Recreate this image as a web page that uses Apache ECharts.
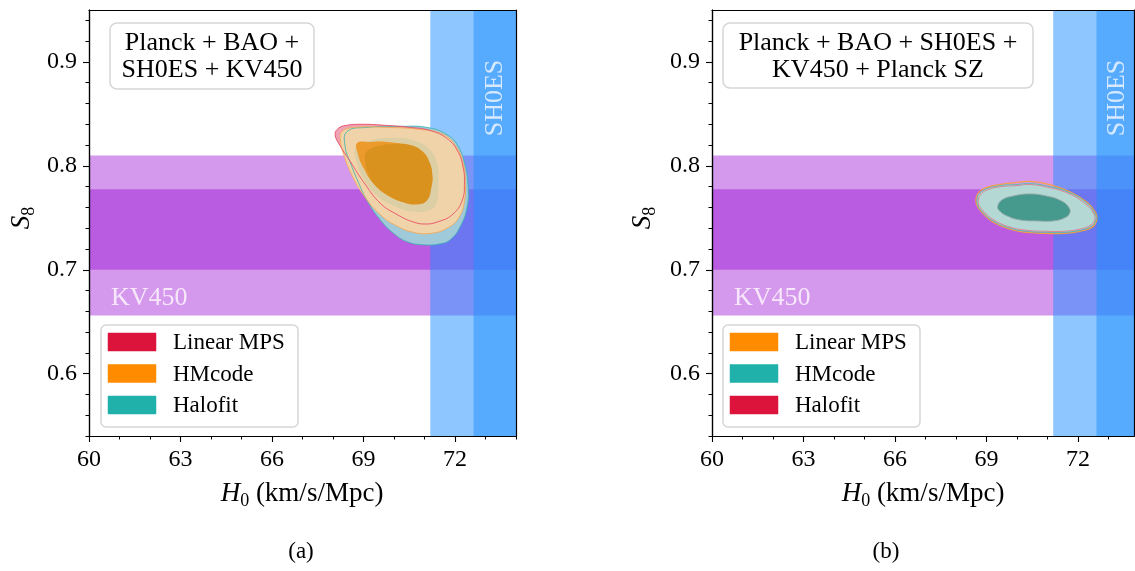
<!DOCTYPE html>
<html>
<head>
<meta charset="utf-8">
<script src="https://cdn.jsdelivr.net/npm/echarts@6/dist/echarts.min.js"></script>
<style>
html,body{margin:0;padding:0;background:#fff;}
#chart{width:1135px;height:571px;}
</style>
</head>
<body>
<div id="chart"></div>
<script>
// ---------------- data ----------------
const xMajorTicks = [60, 63, 66, 69, 72];
const xMinorTicksA = [61, 62, 64, 65, 67, 68, 70, 71, 73, 74];
const xMinorTicksB = [61, 62, 64, 65, 67, 68, 70, 71, 73];
const yMajorTicks = [0.6, 0.7, 0.8, 0.9];
const yMinorTicks = [0.54, 0.56, 0.58, 0.62, 0.64, 0.66, 0.68, 0.72, 0.74, 0.76, 0.78, 0.82, 0.84, 0.86, 0.88, 0.92, 0.94];

// KV450 S8 bands (2 sigma, 1 sigma) and SH0ES H0 bands (2 sigma, 1 sigma)
const kv450Bands = [[0.656, 0.810], [0.700, 0.7775]];
const shoesBands = [[71.19, 76.87], [72.61, 75.45]];

const legendLabels = ['Linear MPS', 'HMcode', 'Halofit'];
const titleA = 'Planck + BAO +\nSH0ES + KV450';
const titleB = 'Planck + BAO + SH0ES +\nKV450 + Planck SZ';

// panel (a) contours: [H0, S8]
const a_halofit95 = [[68.46,0.833],[69.11,0.837],[70.21,0.838],[71.08,0.837],[71.74,0.830],[72.12,0.818],[72.34,0.799],[72.43,0.780],[72.40,0.761],[72.18,0.742],[71.85,0.729],[71.52,0.725],[70.97,0.724],[70.43,0.727],[69.99,0.735],[69.55,0.748],[69.11,0.767],[68.79,0.787],[68.57,0.803],[68.40,0.818]];
const a_linear95 = [[68.07,0.830],[68.17,0.836],[68.44,0.839],[68.96,0.840],[69.72,0.839],[70.54,0.837],[71.19,0.834],[71.75,0.826],[72.11,0.813],[72.27,0.798],[72.31,0.785],[72.24,0.767],[71.91,0.753],[71.42,0.746],[71.03,0.744],[70.63,0.746],[70.11,0.753],[69.55,0.764],[68.99,0.785],[68.57,0.804],[68.24,0.819]];
const a_hmcode95 = [[68.29,0.833],[68.68,0.837],[69.77,0.837],[70.86,0.835],[71.63,0.830],[72.07,0.817],[72.28,0.801],[72.34,0.785],[72.31,0.766],[72.12,0.750],[71.74,0.740],[71.19,0.735],[70.64,0.736],[70.10,0.742],[69.55,0.753],[69.00,0.772],[68.62,0.791],[68.35,0.811],[68.24,0.825]];
const a_halofit68 = [[68.76,0.819],[69.29,0.825],[70.04,0.827],[70.70,0.824],[71.19,0.815],[71.42,0.801],[71.45,0.782],[71.39,0.764],[71.13,0.757],[70.60,0.756],[70.04,0.761],[69.49,0.770],[69.06,0.785],[68.80,0.801]];
const a_hmcode68 = [[68.79,0.822],[69.22,0.823],[69.77,0.823],[70.43,0.820],[70.86,0.814],[71.14,0.804],[71.25,0.791],[71.22,0.779],[71.08,0.767],[70.75,0.763],[70.31,0.765],[69.77,0.772],[69.33,0.783],[69.00,0.798],[68.81,0.812]];
const a_linear68 = [[69.09,0.813],[69.49,0.819],[70.04,0.821],[70.54,0.820],[70.93,0.814],[71.16,0.804],[71.26,0.791],[71.22,0.779],[71.08,0.767],[70.75,0.763],[70.31,0.765],[69.78,0.772],[69.39,0.781],[69.16,0.792],[69.06,0.804]];

// panel (b) contours
const b_linear95 = [[68.66,0.769],[68.76,0.775],[68.99,0.779],[69.43,0.782],[69.99,0.784],[70.43,0.785],[71.08,0.782],[71.74,0.775],[72.30,0.765],[72.58,0.755],[72.62,0.748],[72.47,0.741],[72.07,0.737],[71.52,0.735],[70.97,0.735],[70.32,0.736],[69.77,0.739],[69.21,0.746],[68.86,0.755],[68.69,0.762]];
const b_hmcode95 = [[68.70,0.769],[68.79,0.774],[69.01,0.778],[69.44,0.781],[69.99,0.782],[70.43,0.783],[71.08,0.780],[71.74,0.774],[72.29,0.764],[72.56,0.754],[72.59,0.748],[72.45,0.742],[72.07,0.738],[71.52,0.736],[70.97,0.736],[70.32,0.737],[69.77,0.740],[69.22,0.747],[68.89,0.755],[68.72,0.762]];
const b_halofit95 = [[68.74,0.768],[68.83,0.773],[69.04,0.777],[69.46,0.780],[70.00,0.781],[70.43,0.782],[71.07,0.779],[71.72,0.773],[72.26,0.763],[72.52,0.754],[72.55,0.748],[72.42,0.743],[72.05,0.739],[71.51,0.737],[70.97,0.737],[70.33,0.738],[69.78,0.741],[69.24,0.748],[68.92,0.756],[68.76,0.762]];
const b_hmcode68 = [[69.37,0.761],[69.50,0.767],[69.88,0.771],[70.43,0.773],[70.97,0.771],[71.41,0.767],[71.68,0.761],[71.74,0.755],[71.57,0.750],[71.19,0.747],[70.65,0.747],[70.10,0.748],[69.66,0.752],[69.42,0.757]];

// ---------------- styling / layout ----------------
const FONT = 'Liberation Serif';
const chart = echarts.init(document.getElementById('chart'), null, {renderer: 'canvas'});

const G = [
  {left: 89, top: 10, width: 427, height: 426},
  {left: 712, top: 10, width: 422, height: 426}
];
const xMax = [74, 73.84];
const yMin = 0.54, yMax = 0.95;

function majorX(gridIndex, max) {
  return {
    type: 'value', gridIndex, position: 'bottom', min: 60, max, z: 10,
    axisLine: {show: true, onZero: false, lineStyle: {color: '#000', width: 1.2}},
    axisTick: {show: true, length: 6, inside: false, customValues: xMajorTicks, lineStyle: {color: '#000', width: 1.1}},
    axisLabel: {show: true, customValues: xMajorTicks, margin: 12, color: '#000', fontFamily: FONT, fontSize: 24, formatter: v => String(v)},
    splitLine: {show: false}
  };
}
function minorX(gridIndex, max, ticks) {
  return {
    type: 'value', gridIndex, position: 'bottom', min: 60, max, z: 10,
    axisLine: {show: true, onZero: false, lineStyle: {color: '#000', width: 1.2}},
    axisTick: {show: true, length: 3.5, customValues: ticks, lineStyle: {color: '#000', width: 1}},
    axisLabel: {show: false}, splitLine: {show: false}
  };
}
function lineX(gridIndex, max) {
  return {
    type: 'value', gridIndex, position: 'top', min: 60, max, z: 10,
    axisLine: {show: true, onZero: false, lineStyle: {color: '#000', width: 1.2}},
    axisTick: {show: false}, axisLabel: {show: false}, splitLine: {show: false}
  };
}
function majorY(gridIndex) {
  return {
    type: 'value', gridIndex, position: 'left', min: yMin, max: yMax, z: 10,
    axisLine: {show: true, onZero: false, lineStyle: {color: '#000', width: 1.2}},
    axisTick: {show: true, length: 6, customValues: yMajorTicks, lineStyle: {color: '#000', width: 1.1}},
    axisLabel: {show: true, customValues: yMajorTicks, margin: 12, color: '#000', fontFamily: FONT, fontSize: 24, formatter: v => v.toFixed(1)},
    splitLine: {show: false}
  };
}
function minorY(gridIndex) {
  return {
    type: 'value', gridIndex, position: 'left', min: yMin, max: yMax, z: 10,
    axisLine: {show: true, onZero: false, lineStyle: {color: '#000', width: 1.2}},
    axisTick: {show: true, length: 3.5, customValues: yMinorTicks, lineStyle: {color: '#000', width: 1}},
    axisLabel: {show: false}, splitLine: {show: false}
  };
}
function lineY(gridIndex) {
  return {
    type: 'value', gridIndex, position: 'right', min: yMin, max: yMax, z: 10,
    axisLine: {show: true, onZero: false, lineStyle: {color: '#000', width: 1.2}},
    axisTick: {show: false}, axisLabel: {show: false}, splitLine: {show: false}
  };
}

function hBandSeries(xAxisIndex, yAxisIndex, bands, color) {
  return {
    type: 'custom', xAxisIndex, yAxisIndex, z: 1, silent: true,
    data: bands,
    renderItem: function (params, api) {
      const cs = params.coordSys;
      const top = api.coord([60, api.value(1)])[1];
      const bot = api.coord([60, api.value(0)])[1];
      const r = echarts.graphic.clipRectByRect({x: cs.x, y: top, width: cs.width, height: bot - top},
        {x: cs.x, y: cs.y, width: cs.width, height: cs.height});
      return r && {type: 'rect', shape: r, style: {fill: color}};
    }
  };
}
function vBandSeries(xAxisIndex, yAxisIndex, bands, color) {
  return {
    type: 'custom', xAxisIndex, yAxisIndex, z: 1, silent: true,
    data: bands,
    renderItem: function (params, api) {
      const cs = params.coordSys;
      const l = api.coord([api.value(0), 0.7])[0];
      const r0 = api.coord([api.value(1), 0.7])[0];
      const r = echarts.graphic.clipRectByRect({x: l, y: cs.y, width: r0 - l, height: cs.height},
        {x: cs.x, y: cs.y, width: cs.width, height: cs.height});
      return r && {type: 'rect', shape: r, style: {fill: color}};
    }
  };
}
function polySeries(xAxisIndex, yAxisIndex, pts, fill, stroke, lw, z) {
  return {
    type: 'custom', xAxisIndex, yAxisIndex, z: z, silent: true,
    data: pts,
    renderItem: function (params, api) {
      if (params.dataIndex !== 0) return null;
      const points = pts.map(p => api.coord(p));
      return {
        type: 'polygon',
        shape: {points, smooth: 0.45},
        style: {fill: fill || 'none', stroke: stroke || 'none', lineWidth: lw || 0}
      };
    }
  };
}

const series = [];
// panel (a)
kv450Bands.forEach(b => series.push(hBandSeries(0, 0, [b], 'rgba(148,0,211,0.4)')));
shoesBands.forEach(b => series.push(vBandSeries(0, 0, [b], 'rgba(30,144,255,0.5)')));
series.push(polySeries(0, 0, a_halofit95, '#9fcad9', null, 0, 3));
series.push(polySeries(0, 0, a_linear95, '#eea3b4', null, 0, 4));
series.push(polySeries(0, 0, a_hmcode95, '#f0d3a8', null, 0, 5));
series.push(polySeries(0, 0, a_halofit68, '#dccfa6', null, 0, 6));
series.push(polySeries(0, 0, a_hmcode68, '#ec9a2b', null, 0, 7));
series.push(polySeries(0, 0, a_linear68, '#d9921e', null, 0, 8));
series.push(polySeries(0, 0, a_halofit95, null, 'rgba(64,180,175,0.85)', 1, 9));
series.push(polySeries(0, 0, a_hmcode95, null, 'rgba(246,170,90,0.9)', 1, 9));
series.push(polySeries(0, 0, a_linear95, null, 'rgba(232,80,105,0.9)', 1, 9));
// panel (b)
kv450Bands.forEach(b => series.push(hBandSeries(3, 3, [b], 'rgba(148,0,211,0.4)')));
shoesBands.forEach(b => series.push(vBandSeries(3, 3, [b], 'rgba(30,144,255,0.5)')));
series.push(polySeries(3, 3, b_hmcode95, '#b4d8d4', null, 0, 3));
series.push(polySeries(3, 3, b_hmcode68, '#46998d', 'rgba(150,170,168,0.9)', 1, 4));
series.push(polySeries(3, 3, b_linear95, null, 'rgba(248,160,60,0.95)', 1.3, 9));
series.push(polySeries(3, 3, b_halofit95, null, 'rgba(230,120,140,0.9)', 1, 9));
series.push(polySeries(3, 3, b_hmcode95, null, 'rgba(90,185,178,0.9)', 1, 9));

// ---------------- text / boxes ----------------
const legendColorsA = ['#dc143c', '#ff8c00', '#20b2aa'];
const legendColorsB = ['#ff8c00', '#20b2aa', '#dc143c'];

function legendBox(x0, colors) {
  const els = [{
    type: 'rect', shape: {x: x0, y: 325, width: 197, height: 102, r: 5},
    style: {fill: 'rgba(255,255,255,0.85)', stroke: '#d6d6d6', lineWidth: 1.5}, z: 100
  }];
  legendLabels.forEach((name, i) => {
    const cy = 342 + i * 31.5;
    els.push({type: 'rect', shape: {x: x0 + 7, y: cy - 9, width: 48, height: 18},
      style: {fill: colors[i], stroke: colors[i], lineWidth: 0.5, opacity: 1}, z: 101});
    els.push({type: 'text', x: x0 + 72, y: cy + 1, z: 101,
      style: {text: name, font: '23px "' + FONT + '"', fill: '#000', align: 'left', verticalAlign: 'middle'}});
  });
  return els;
}
function titleBox(x0, y0, w, h, text) {
  return [{
    type: 'rect', shape: {x: x0, y: y0, width: w, height: h, r: 7},
    style: {fill: 'rgba(255,255,255,0.85)', stroke: '#d6d6d6', lineWidth: 1.5}, z: 100
  }, {
    type: 'text', x: x0 + w / 2, y: y0 + h / 2 + 1, z: 101,
    style: {text, font: '26px "' + FONT + '"', fill: '#000', align: 'center', verticalAlign: 'middle', lineHeight: 27}
  }];
}
function xTitle(cx) {
  return {
    type: 'text', x: cx, y: 494, z: 101,
    style: {
      text: '{i|H}{s|0}{n| (km/s/Mpc)}', align: 'center', verticalAlign: 'middle',
      rich: {
        i: {fontFamily: FONT, fontStyle: 'italic', fontSize: 27, lineHeight: 32, fill: '#000'},
        s: {fontFamily: FONT, fontSize: 18, lineHeight: 24, verticalAlign: 'bottom', fill: '#000'},
        n: {fontFamily: FONT, fontSize: 27, lineHeight: 32, fill: '#000'}
      }
    }
  };
}
function yTitle(cx) {
  return {
    type: 'text', x: cx, y: 218, rotation: Math.PI / 2, z: 101,
    style: {
      text: '{i|S}{s|8}', align: 'center', verticalAlign: 'middle',
      rich: {
        i: {fontFamily: FONT, fontStyle: 'italic', fontSize: 27, lineHeight: 32, fill: '#000'},
        s: {fontFamily: FONT, fontSize: 18, lineHeight: 24, verticalAlign: 'bottom', fill: '#000'}
      }
    }
  };
}
function bandText(x, y, text, color, rot) {
  return {type: 'text', x, y, rotation: rot || 0, z: 50,
    style: {text, font: '26px "' + FONT + '"', fill: color, align: rot ? 'center' : 'left', verticalAlign: 'middle'}};
}

const graphics = [].concat(
  titleBox(110, 23, 204, 66, titleA),
  titleBox(723, 23, 310, 65, titleB),
  legendBox(101, legendColorsA),
  legendBox(723, legendColorsB),
  [
    bandText(111, 298, 'KV450', 'rgba(250,238,252,0.92)'),
    bandText(734, 298, 'KV450', 'rgba(250,238,252,0.92)'),
    bandText(495, 98, 'SH0ES', 'rgba(225,238,255,0.92)', Math.PI / 2),
    bandText(1117, 98, 'SH0ES', 'rgba(225,238,255,0.92)', Math.PI / 2),
    xTitle(302), xTitle(923),
    yTitle(22), yTitle(643),
    {type: 'text', x: 301, y: 552, z: 101, style: {text: '(a)', font: '23px "' + FONT + '"', fill: '#000', align: 'center', verticalAlign: 'middle'}},
    {type: 'text', x: 886, y: 552, z: 101, style: {text: '(b)', font: '23px "' + FONT + '"', fill: '#000', align: 'center', verticalAlign: 'middle'}}
  ]
);

const option = {
  animation: false,
  backgroundColor: '#fff',
  grid: [
    Object.assign({containLabel: false}, G[0]),
    Object.assign({containLabel: false}, G[0]),
    Object.assign({containLabel: false}, G[1]),
    Object.assign({containLabel: false}, G[1])
  ],
  xAxis: [
    majorX(0, xMax[0]), minorX(1, xMax[0], xMinorTicksA), lineX(1, xMax[0]),
    majorX(2, xMax[1]), minorX(3, xMax[1], xMinorTicksB), lineX(3, xMax[1])
  ],
  yAxis: [
    majorY(0), minorY(1), lineY(1),
    majorY(2), minorY(3), lineY(3)
  ],
  series,
  graphic: {elements: graphics}
};
chart.setOption(option);
</script>
</body>
</html>
